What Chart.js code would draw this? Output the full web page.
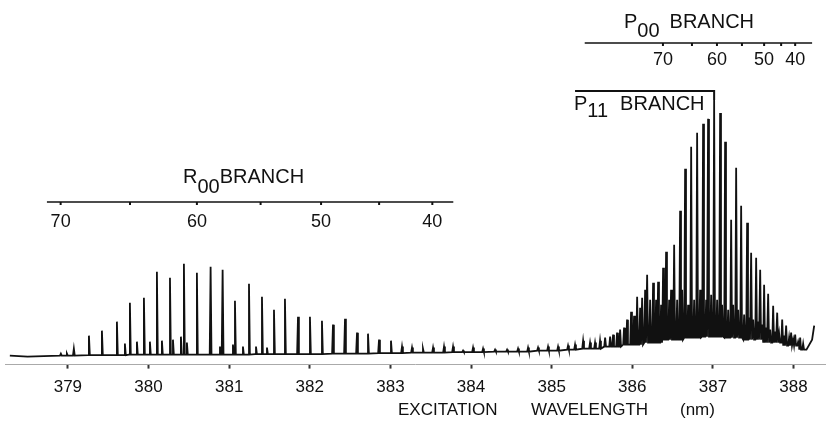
<!DOCTYPE html>
<html>
<head>
<meta charset="utf-8">
<title>Excitation spectrum</title>
<script src="https://cdn.jsdelivr.net/npm/chart.js@4.4.0/dist/chart.umd.min.js"></script>
<style>
  html, body { margin: 0; padding: 0; background: #fff; }
  #wrap { width: 830px; height: 429px; }
</style>
</head>
<body>
<div id="wrap"><canvas id="spectrum"></canvas></div>
<script>
// Line positions (nm) and peak heights (arb. units)
const rWl = [378.913, 378.988, 379.074, 379.261, 379.422, 379.608, 379.707, 379.769, 379.856, 379.943,
  380.017, 380.104, 380.166, 380.266, 380.303, 380.402, 380.439, 380.476, 380.600, 380.770,
  380.886, 380.919, 381.047, 381.072, 381.171, 381.246, 381.333, 381.407, 381.469, 381.556,
  381.692, 381.854, 382.002, 382.151, 382.288, 382.437, 382.586, 382.722, 382.859, 383.007,
  383.144, 383.268, 383.404, 383.529, 383.665, 383.777, 383.901, 384.025, 384.149, 384.298,
  384.447, 384.583, 384.707, 384.831, 384.955, 385.079, 385.203, 385.290, 385.390, 385.476];
const rHt = [3, 3, 8, 21, 26, 35, 13, 54, 15, 59,
  15, 85, 16, 79, 17, 20, 93, 14, 84, 90,
  10, 87, 12, 56, 10, 73, 10, 60, 9, 47,
  58, 40, 40, 36, 32, 38, 24, 23, 17, 16,
  10, 9, 8, 9, 10, 10, 6, 9, 8, 7,
  7, 8, 9, 9, 10, 10, 11, 12, 16, 14];

const pWl = [385.538, 385.600, 385.663, 385.725, 385.762, 385.811, 385.849, 385.898, 385.935, 385.985,
  386.022, 386.060, 386.097, 386.122, 386.159, 386.184, 386.221, 386.258, 386.295, 386.320,
  386.357, 386.382, 386.419, 386.457, 386.481, 386.519, 386.556, 386.593, 386.618, 386.655,
  386.692, 386.730, 386.767, 386.804, 386.841, 386.878, 386.916, 386.940, 386.978, 387.015,
  387.052, 387.089, 387.114, 387.151, 387.189, 387.226, 387.251, 387.288, 387.313, 387.350,
  387.387, 387.424, 387.449, 387.474, 387.499, 387.536, 387.561, 387.586, 387.610, 387.635,
  387.660, 387.685, 387.710, 387.747, 387.772, 387.797, 387.821, 387.859, 387.883, 387.908,
  387.945, 387.970, 387.995, 388.020, 388.057, 388.082, 388.119];
const pHt = [14, 16, 19, 20, 22, 24, 27, 29, 37, 45,
  41, 60, 49, 59, 67, 82, 57, 74, 57, 75,
  52, 89, 105, 57, 67, 112, 57, 146, 67, 188,
  52, 210, 57, 224, 67, 233, 57, 238, 62, 257,
  57, 244, 52, 215, 47, 137, 52, 189, 47, 151,
  42, 134, 39, 104, 37, 99, 35, 87, 32, 72,
  29, 63, 27, 51, 25, 44, 23, 37, 21, 31,
  19, 24, 17, 22, 15, 19, 13];

// background level of the trace between lines (ends with the pen rising at the end of the scan)
const bgWl = [378.28, 378.5, 378.7, 379.0, 379.5, 380.0, 380.5, 381.0, 381.5, 382.0,
  382.5, 383.0, 383.5, 384.0, 384.5, 385.0, 385.25, 385.5, 385.75, 386.0,
  386.25, 386.5, 386.75, 387.0, 387.25, 387.5, 387.75, 388.0, 388.16, 388.23, 388.256];
const bgHt = [1, 0, 0.5, 1, 1.5, 2, 2, 2, 2.5, 2.5,
  3, 3.5, 4, 4.5, 5, 6, 7, 8, 10, 12,
  14, 17, 19, 20, 19, 17, 14, 11, 7, 17, 31];

// wavelength axis
const xTicks = [379, 380, 381, 382, 383, 384, 385, 386, 387, 388];

// rotational assignments drawn above the spectrum
const rJ = [70, 65, 60, 55, 50, 45, 40];
const rJWl = [378.91, 379.77, 380.60, 381.39, 382.14, 382.86, 383.52];
const rAxis = [378.74, 383.78];
const pJ = [70, 65, 60, 55, 50, 45, 40];
const pJWl = [386.38, 386.74, 387.05, 387.36, 387.635, 387.846, 388.02];
const pAxis = [385.41, 388.23];
const p11Span = [385.29, 387.015];

const INK = '#111';
const FONT = "'Liberation Sans', Arial, sans-serif";

// build the trace: each line is a narrow spike sitting on the nearest background level
function nearestBg(w) {
  let best = 0;
  bgWl.forEach((b, i) => { if (Math.abs(b - w) < Math.abs(bgWl[best] - w)) best = i; });
  return bgHt[best];
}
const lineWl = rWl.concat(pWl);
const lineHt = rHt.concat(pHt);
const half = 0.011;
const trace = [];
lineWl.forEach((w, i) => {
  const foot = nearestBg(w);
  trace.push({ x: w - half, y: foot }, { x: w, y: lineHt[i] }, { x: w + half, y: foot });
});
bgWl.forEach((w, i) => {
  if (!lineWl.some(l => Math.abs(l - w) < 0.03)) trace.push({ x: w, y: bgHt[i] });
});
trace.sort((a, b) => a.x - b.x);

function drawBranchAxis(ctx, xs, span, y, js, wls, labelY) {
  ctx.lineWidth = 1.5;
  ctx.beginPath();
  ctx.moveTo(xs.getPixelForValue(span[0]), y);
  ctx.lineTo(xs.getPixelForValue(span[1]), y);
  ctx.stroke();
  ctx.font = '18px ' + FONT;
  ctx.textAlign = 'center';
  ctx.textBaseline = 'middle';
  js.forEach((j, i) => {
    const px = xs.getPixelForValue(wls[i]);
    ctx.lineWidth = 2;
    ctx.beginPath();
    ctx.moveTo(px, y);
    ctx.lineTo(px, y + 3);
    ctx.stroke();
    if (j % 10 === 0) ctx.fillText(String(j), px, labelY);
  });
}

function subLabel(ctx, x, y, head, sub, tail, drop, gap) {
  ctx.font = '20px ' + FONT;
  ctx.textAlign = 'left';
  ctx.textBaseline = 'alphabetic';
  ctx.fillText(head, x, y);
  let cx = x + ctx.measureText(head).width;
  ctx.fillText(sub, cx, y + drop);
  cx += ctx.measureText(sub).width + gap;
  ctx.fillText(tail, cx, y);
}

const branchScales = {
  id: 'branchScales',
  afterDraw(chart) {
    const ctx = chart.ctx;
    const xs = chart.scales.x;
    ctx.save();
    ctx.strokeStyle = INK;
    ctx.fillStyle = INK;

    drawBranchAxis(ctx, xs, rAxis, 202, rJ, rJWl, 222);
    subLabel(ctx, 183, 183, 'R', '00', 'BRANCH', 10, 0);

    drawBranchAxis(ctx, xs, pAxis, 43, pJ, pJWl, 60);
    subLabel(ctx, 624, 28, 'P', '00', 'BRANCH', 9, 10);

    // P11 bracket
    const a = xs.getPixelForValue(p11Span[0]);
    const b = xs.getPixelForValue(p11Span[1]);
    ctx.lineWidth = 2;
    ctx.beginPath();
    ctx.moveTo(a, 91);
    ctx.lineTo(b, 91);
    ctx.lineTo(b, 100);
    ctx.stroke();
    subLabel(ctx, 574, 110, 'P', '11', 'BRANCH', 7, 12);

    // axis title
    ctx.font = '17px ' + FONT;
    ctx.textAlign = 'left';
    ctx.textBaseline = 'middle';
    ctx.fillText('EXCITATION', 398, 410);
    ctx.fillText('WAVELENGTH', 531, 410);
    ctx.fillText('(nm)', 680, 410);
    ctx.restore();
  }
};

new Chart(document.getElementById('spectrum'), {
  type: 'line',
  data: {
    datasets: [{
      label: 'Excitation spectrum',
      data: trace,
      borderColor: INK,
      borderWidth: 1.8,
      pointRadius: 0,
      tension: 0,
      fill: false
    }]
  },
  options: {
    responsive: true,
    maintainAspectRatio: false,
    animation: false,
    parsing: false,
    layout: { padding: { top: 10, left: 5, right: 5, bottom: 22 } },
    plugins: { legend: { display: false }, tooltip: { enabled: false } },
    scales: {
      x: {
        type: 'linear',
        min: 378.22,
        max: 388.39,
        afterBuildTicks: scale => { scale.ticks = xTicks.map(v => ({ value: v })); },
        ticks: { color: INK, padding: 9, font: { family: FONT, size: 17 }, callback: v => String(v) },
        grid: { display: true, drawOnChartArea: false, tickLength: 4, tickWidth: 2, tickColor: '#333' },
        border: { display: true, color: '#aaa', width: 1, dash: [5, 4] }
      },
      y: { display: false, min: -8, max: 347 }
    }
  },
  plugins: [branchScales]
});
</script>
</body>
</html>
